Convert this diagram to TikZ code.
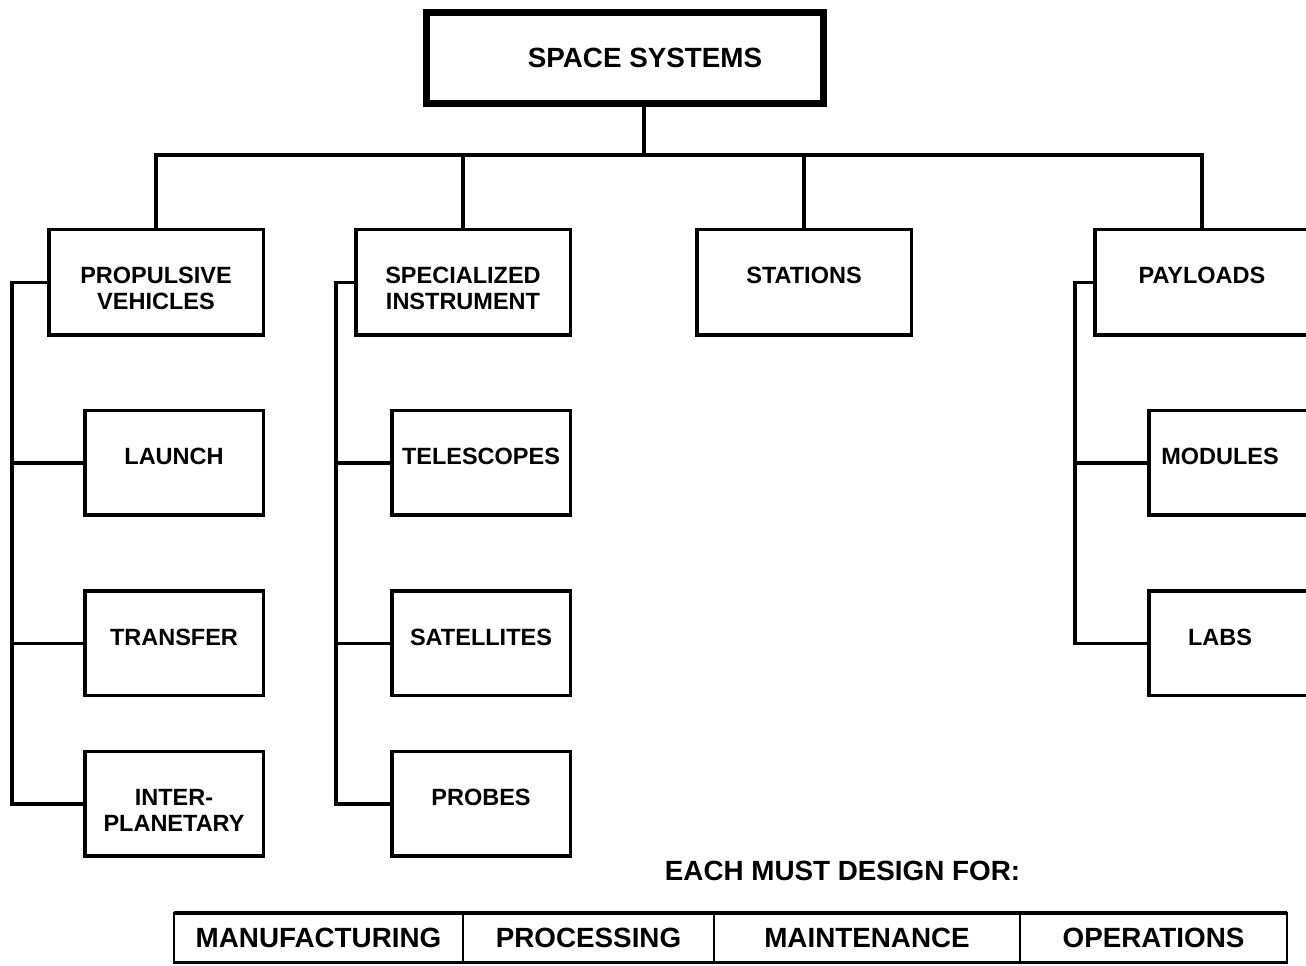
\documentclass[tikz,border=0pt]{standalone}
\usepackage{fontspec}
\setmainfont{Liberation Sans}
\usetikzlibrary{positioning}

\begin{document}
\begin{tikzpicture}[
  x=1pt, y=1pt,
  topbox/.style={rectangle, draw, line width=7pt, minimum width=397pt, minimum height=91pt, inner sep=0pt},
  box/.style={rectangle, draw, line width=3.5pt, minimum width=214.5pt, minimum height=105.5pt, inner sep=0pt},
  subbox/.style={box, minimum width=178.5pt, minimum height=104.5pt},
  cell/.style={rectangle, draw, line width=2.5pt, minimum height=49.5pt, inner sep=0pt, outer sep=0pt, font=\fontsize{27.8}{30}\selectfont\bfseries},
  lbl/.style={font=\fontsize{23.5}{26}\selectfont\bfseries, align=center, inner sep=0pt},
  link/.style={line width=3.5pt}
]
\useasboundingbox (0,0) rectangle (1306,966);
\clip (0,0) rectangle (1306,966);

% Top
\node[topbox] (top) at (625,908) {};
\node[font=\fontsize{27.8}{30}\selectfont\bfseries, inner sep=0pt] (toptxt) at (645,908) {SPACE SYSTEMS};

% Second level
\node[box] (prop) at (156,683.5) {};
\node[box] (spec) at (463,683.5) {};
\node[box] (stat) at (804,683.5) {};
\node[box] (pay) at (1202,683.5) {};

% Children
\node[subbox] (launch) at (174,503) {};
\node[subbox] (transfer) at (174,322.5) {};
\node[subbox] (inter) at (174,162) {};
\node[subbox] (tele) at (481,503) {};
\node[subbox] (sat) at (481,322.5) {};
\node[subbox] (probe) at (481,162) {};
\node[subbox] (mod) at (1238,503) {};
\node[subbox] (labs) at (1238,322.5) {};

% Labels
\node[lbl, below=39pt of prop.north] (propT) {PROPULSIVE\\VEHICLES};
\node[lbl, below=39pt of spec.north] (specT) {SPECIALIZED\\INSTRUMENT};
\node[lbl, below=39pt of stat.north] (statT) {STATIONS};
\node[lbl, below=39pt of pay.north] (payT) {PAYLOADS};
\node[lbl, below=39pt of launch.north] (launchT) {LAUNCH};
\node[lbl, below=39pt of transfer.north] (transferT) {TRANSFER};
\node[lbl, below=39pt of inter.north] (interT) {INTER-\\PLANETARY};
\node[lbl, below=39pt of tele.north] (teleT) {TELESCOPES};
\node[lbl, below=39pt of sat.north] (satT) {SATELLITES};
\node[lbl, below=39pt of probe.north] (probeT) {PROBES};
\node[lbl, below=39pt of mod.north, xshift=-18pt] (modT) {MODULES};
\node[lbl, below=39pt of labs.north, xshift=-18pt] (labsT) {LABS};

% Tree lines
\coordinate (bus) at (644,811);
\draw[link] (top.south -| bus) -- (bus);
\draw[link] (prop.north) -- (prop.north |- bus) -- (pay.north |- bus) -- (pay.north);
\draw[link] (spec.north) -- (spec.north |- bus);
\draw[link] (stat.north) -- (stat.north |- bus);

\coordinate (pvbus) at (12,684);
\coordinate (sibus) at (336,684);
\coordinate (plbus) at (1075,684);
\draw[link] (prop.west) -- (prop.west -| pvbus) |- (inter.west);
\draw[link] (launch.west) -- (launch.west -| pvbus);
\draw[link] (transfer.west) -- (transfer.west -| pvbus);
\draw[link] (spec.west) -- (spec.west -| sibus) |- (probe.west);
\draw[link] (tele.west) -- (tele.west -| sibus);
\draw[link] (sat.west) -- (sat.west -| sibus);
\draw[link] (pay.west) -- (pay.west -| plbus) |- (labs.west);
\draw[link] (mod.west) -- (mod.west -| plbus);

% Bottom
\node[font=\fontsize{27.8}{30}\selectfont\bfseries, inner sep=0pt] (note) at (842.5,95) {EACH MUST DESIGN FOR:};
\node[cell, minimum width=289pt] (mfg) at (318.5,28) {MANUFACTURING};
\node[cell, minimum width=251pt, right=0pt of mfg] (proc) {PROCESSING};
\node[cell, minimum width=306pt, right=0pt of proc] (maint) {MAINTENANCE};
\node[cell, minimum width=267pt, right=0pt of maint] (ops) {OPERATIONS};
\draw[line width=3.5pt] (mfg.north west) -- (ops.north east);

\end{tikzpicture}
\end{document}
